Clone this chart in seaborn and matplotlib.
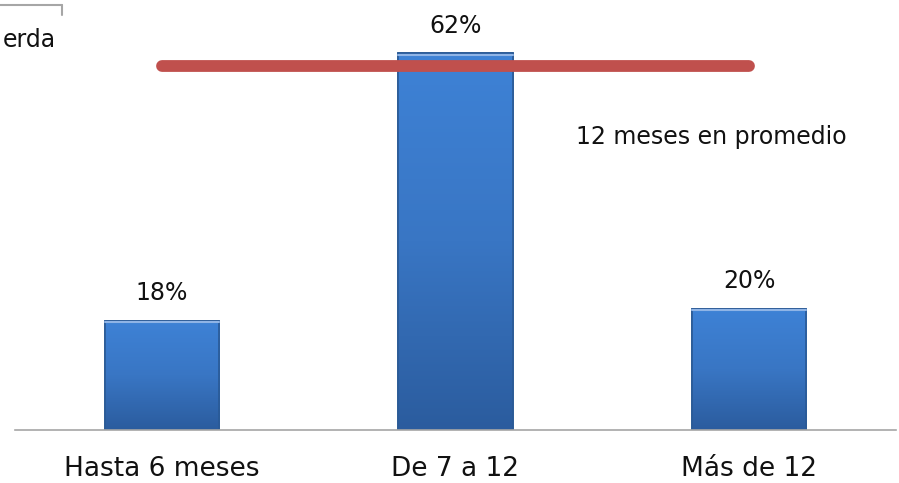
import matplotlib.pyplot as plt
from matplotlib.colors import LinearSegmentedColormap
from matplotlib.patches import Rectangle
import seaborn as sns
import pandas as pd
import numpy as np

# data
categories = ["Hasta 6 meses", "De 7 a 12", "Más de 12"]
shares = [18, 62, 20]
labels = ["18%", "62%", "20%"]
average_level = 60
average_text = "12 meses en promedio"
corner_text = "erda"  # only this part of the legend text is visible in the reference

sns.set_style("white")
plt.rcParams['font.family'] = ['DejaVu Sans']

df = pd.DataFrame({"cat": categories, "val": shares})

fig = plt.figure(figsize=(8.99, 4.83), dpi=100)
ax = fig.add_axes([15 / 899, 53 / 483, 881 / 899, 430 / 483])

sns.barplot(data=df, x="cat", y="val", color="#3a78c8", width=0.39,
            edgecolor="#2a5a96", linewidth=1.2, saturation=1, ax=ax)

# vertical shading on each bar (lighter top, darker bottom)
shade = LinearSegmentedColormap.from_list("shade", ["#2b5c9e", "#3976c4", "#3e82d6"])
grad = np.linspace(0, 1, 256).reshape(-1, 1)
for p in list(ax.patches):
    x0, w, h = p.get_x(), p.get_width(), p.get_height()
    z = p.get_zorder()
    im = ax.imshow(grad, cmap=shade, origin="lower", aspect="auto",
                   extent=[x0, x0 + w, 0, h], zorder=z + 0.1)
    im.set_clip_path(p)
    ax.add_patch(Rectangle((x0, 0), w, h, fill=False, edgecolor="#2a5a96",
                           lw=1.2, zorder=z + 0.2))
    ax.plot([x0, x0 + w], [h - 0.25, h - 0.25], color="#8fb4e6", lw=1.5, zorder=z + 0.3)
ax.set_xlim(-0.5, 2.5)
ax.set_ylim(0, 70.8)

# percent labels above bars
for i, (v, t) in enumerate(zip(shares, labels)):
    ax.annotate(t, (i, v), xytext=(0, 20), textcoords="offset points",
                ha="center", va="center", fontsize=17, color="#111111")

# average line
ax.plot([0, 2], [average_level, average_level], color="#c0504d", lw=8.5,
        solid_capstyle="round", zorder=5)
ax.text(1.41, 48.3, average_text, fontsize=17, va="center", ha="left", color="#111111")

# axis styling
for s in ["left", "right", "top"]:
    ax.spines[s].set_visible(False)
ax.spines["bottom"].set_color("#a6a6a6")
ax.spines["bottom"].set_linewidth(1.2)
ax.set_yticks([])
ax.set_xlabel("")
ax.set_ylabel("")
ax.set_xticks([0, 1, 2])
ax.set_xticklabels(categories, fontsize=19, color="#111111")
ax.tick_params(axis="x", which="major", length=0, pad=19)
ax.set_xticks([-0.5, 0.5, 1.5, 2.5], minor=True)
ax.tick_params(axis="x", which="minor", length=8, color="#a6a6a6", width=1.2)

# corner of a legend box cut by the picture edge
fig.text(56 / 899, 1 - 40 / 483, corner_text, fontsize=17, ha="right", va="center", color="#111111")
fig.add_artist(plt.Line2D([0, 62 / 899], [1 - 5 / 483, 1 - 5 / 483], color="#a6a6a6", lw=1.5,
                          transform=fig.transFigure))
fig.add_artist(plt.Line2D([62 / 899, 62 / 899], [1 - 5 / 483, 1 - 15 / 483], color="#a6a6a6", lw=1.5,
                          transform=fig.transFigure))

fig.savefig("out.png", dpi=100)
